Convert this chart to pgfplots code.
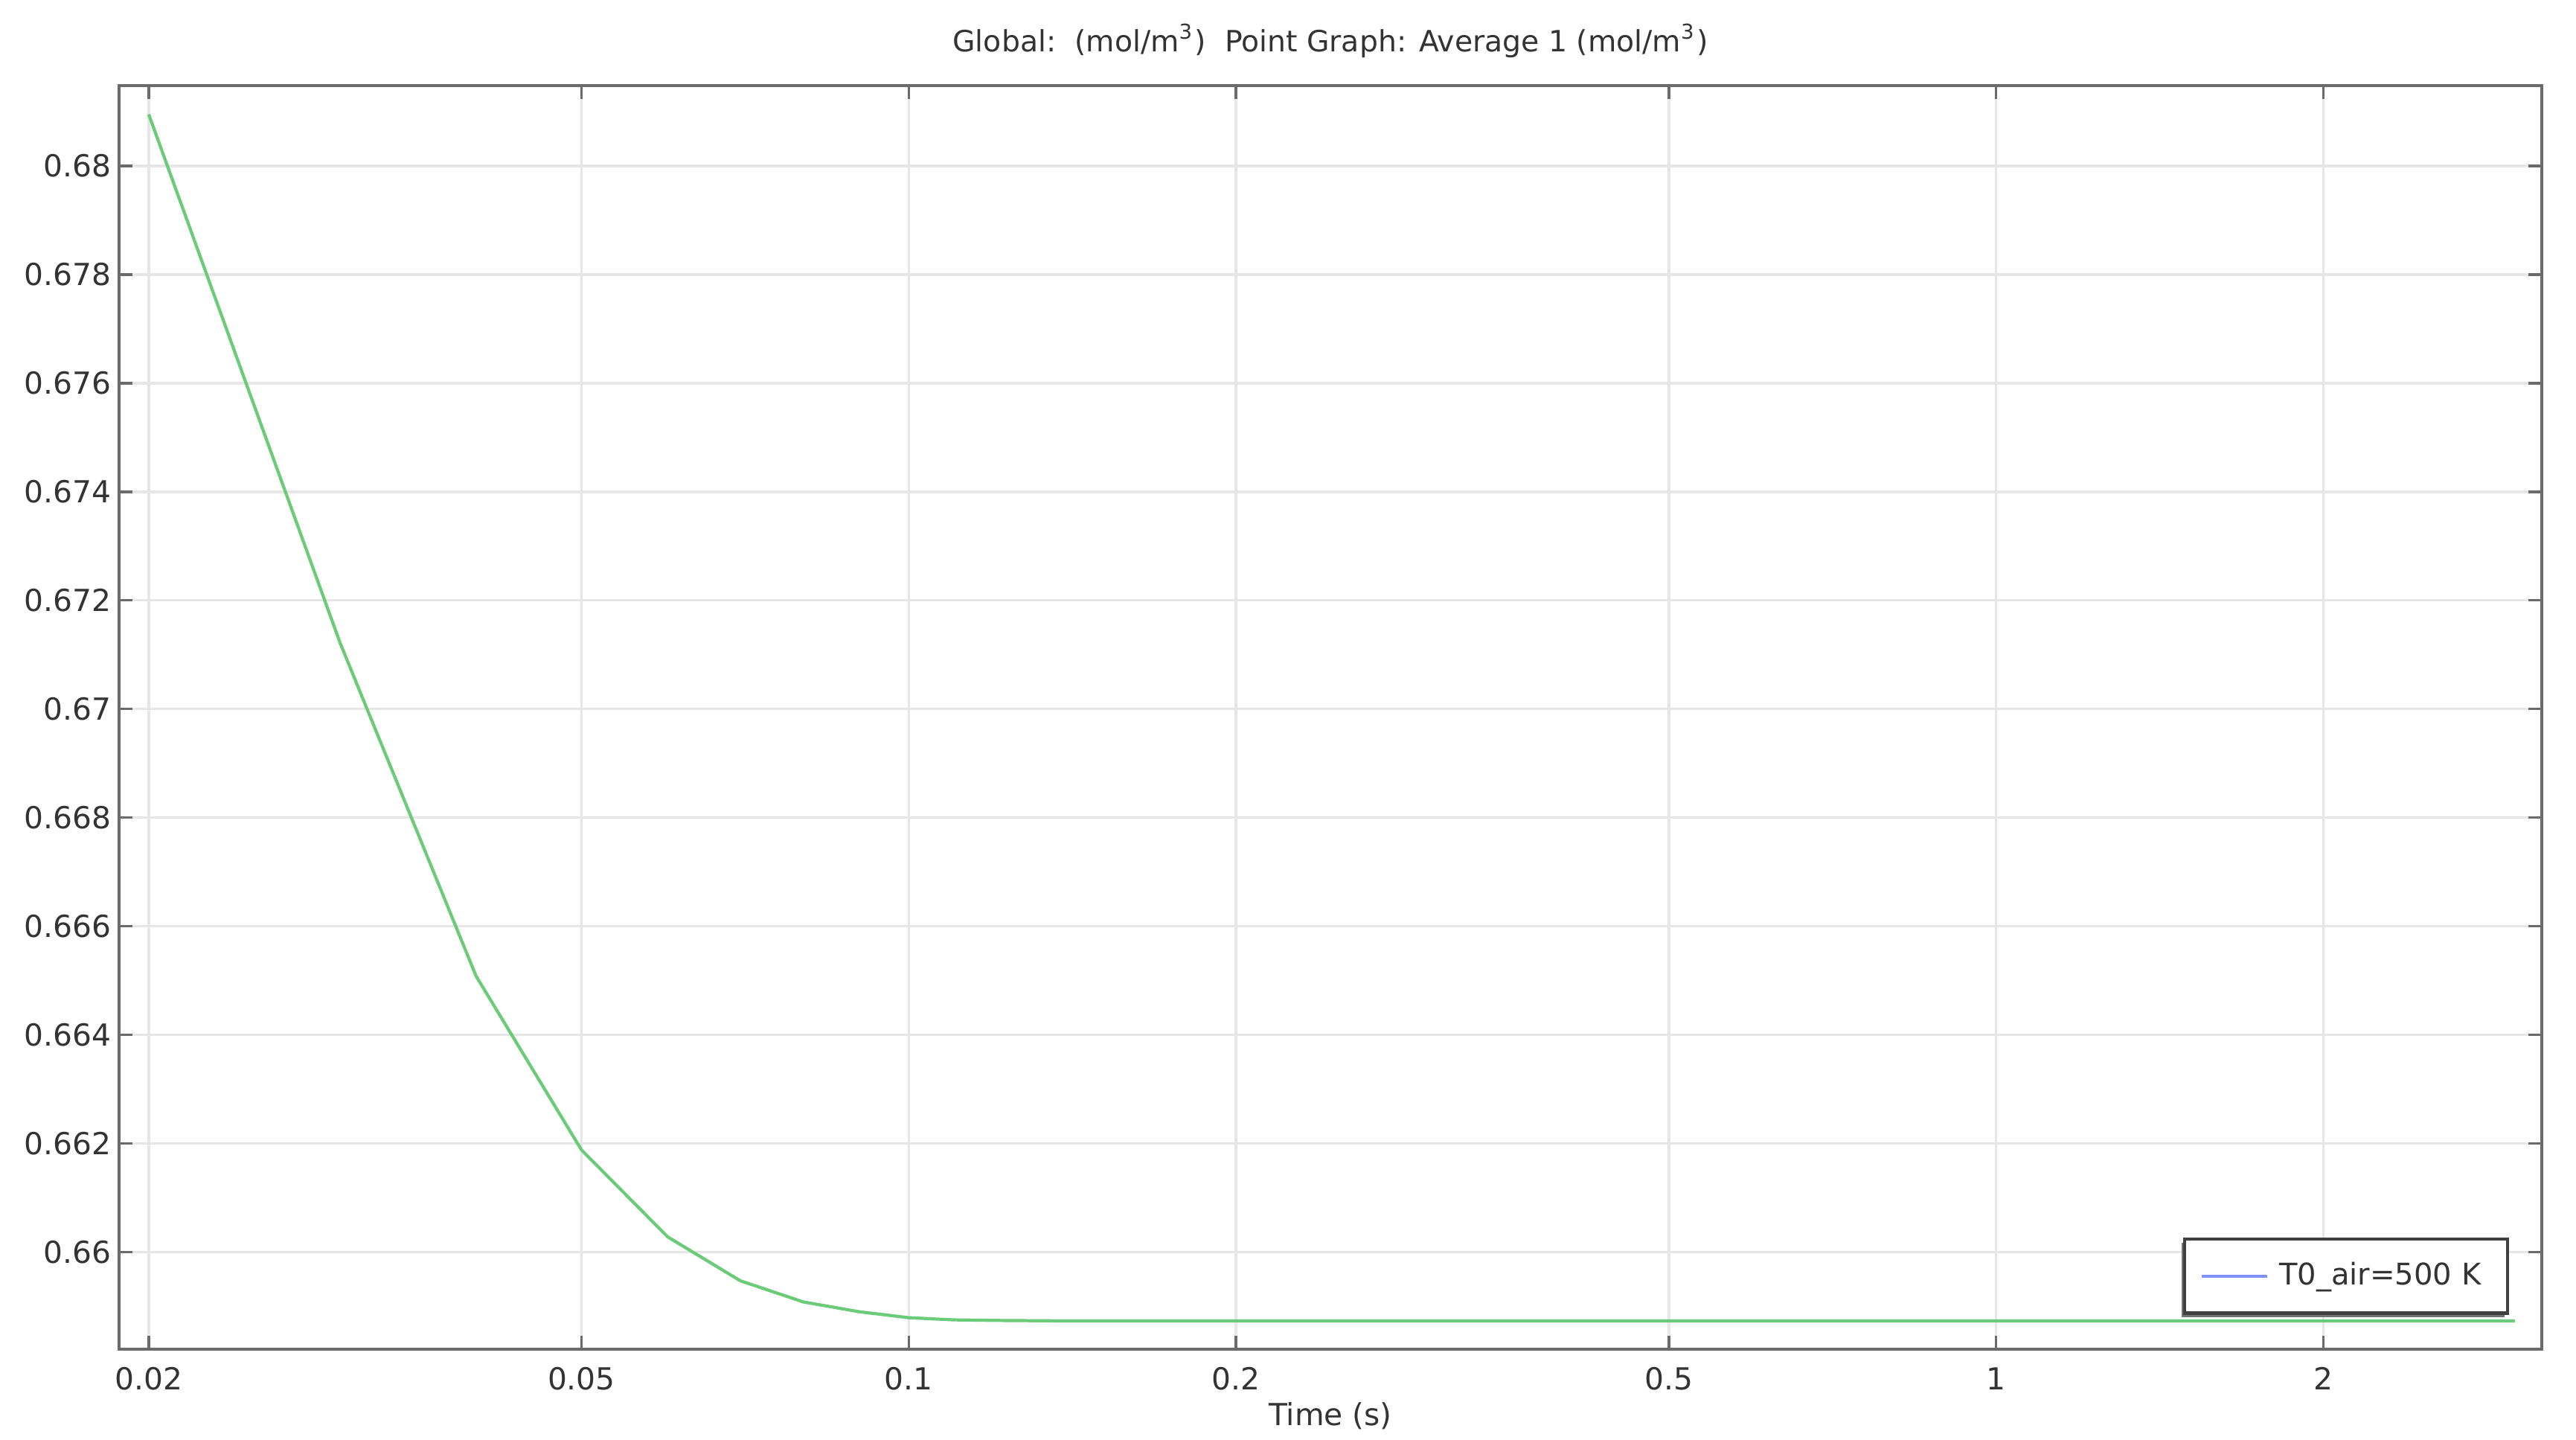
\documentclass[border=0pt]{standalone}
\usepackage{fontspec}
\setmainfont{DejaVu Sans}
\usepackage{pgfplots}
\pgfplotsset{compat=1.18}
\usetikzlibrary{shadows}
\definecolor{cgreen}{HTML}{6CCB78}
\definecolor{cblue}{HTML}{8090FF}
\definecolor{cgrid}{HTML}{E6E6E6}
\definecolor{caxis}{HTML}{6A6A6A}
\definecolor{ctext}{HTML}{333333}

\pgfplotstableread{
t c
0.02 0.68095
0.03 0.67121
0.04 0.66508
0.05 0.66188
0.06 0.66028
0.07 0.65947
0.08 0.65908
0.09 0.65890
0.10 0.65879
0.11 0.65875
0.12 0.65874
0.14 0.65873
0.2 0.65873
0.5 0.65873
1 0.65873
2 0.65873
3 0.65873
}\avgdata

\begin{document}
\fontsize{5.7}{6.8}\selectfont
\begin{tikzpicture}
\begin{axis}[
  at={(0,0)}, anchor=south west,
  scale only axis,
  width=16.28cm, height=8.49cm,
  xmode=log,
  xmin=0.01878, xmax=3.176,
  ymin=0.65821, ymax=0.68148,
  xtick={0.02,0.05,0.1,0.2,0.5,1,2},
  xticklabels={0.02,0.05,0.1,0.2,0.5,1,2},
  minor xtick={},
  ytick={0.66,0.662,...,0.6801},
  /pgf/number format/fixed,
  /pgf/number format/precision=3,
  /pgf/number format/assume math mode=true,
  tick label style={font=\fontsize{5.8}{6.8}\selectfont, text=ctext},
  xticklabel style={yshift=-0.05cm},
  yticklabel style={xshift=0.02cm},
  tick align=inside,
  major tick length=0.09cm,
  tick style={caxis, line width=0.5pt},
  axis line style={caxis, line width=0.7pt},
  grid=major,
  major grid style={cgrid, line width=0.5pt},
  title={Global:~~(mol/m\textsuperscript{3})~~Point Graph: Average 1 (mol/m\textsuperscript{3})},
  title style={at={(0.5,1)}, anchor=center, yshift=0.09cm, text=ctext, font=\fontsize{5.6}{7}\selectfont},
  xlabel={Time (s)},
  xlabel style={at={(0.5,0)}, anchor=center, yshift=-0.45cm, text=ctext, font=\fontsize{5.8}{7}\selectfont},
  legend style={at={(0.9864,0.0273)}, anchor=south east,
    draw=black!75, line width=0.6pt, fill=white,
    drop shadow={shadow xshift=-0.5pt, shadow yshift=-0.8pt, fill=black!55, opacity=1},
    font=\fontsize{5.7}{6.8}\selectfont, text=ctext,
    inner xsep=3pt, inner ysep=2.5pt},
  legend cell align=left,
  legend image code/.code={%
    \pgfpathmoveto{\pgfpoint{0cm}{0cm}}%
    \pgfpathlineto{\pgfpoint{0.44cm}{0cm}}%
    \pgfsetstrokecolor{cblue}\pgfsetlinewidth{0.6pt}%
    \pgfusepath{stroke}},
]
\addplot[cgreen, line width=0.6pt, forget plot] table[x=t, y=c] {\avgdata};
\addlegendimage{cblue, line width=0.6pt}
\addlegendentry{T0\_air=500 K}
\end{axis}
\pgfresetboundingbox
\useasboundingbox (-0.80,-0.61) rectangle (16.51,9.065);
\end{tikzpicture}
\end{document}
